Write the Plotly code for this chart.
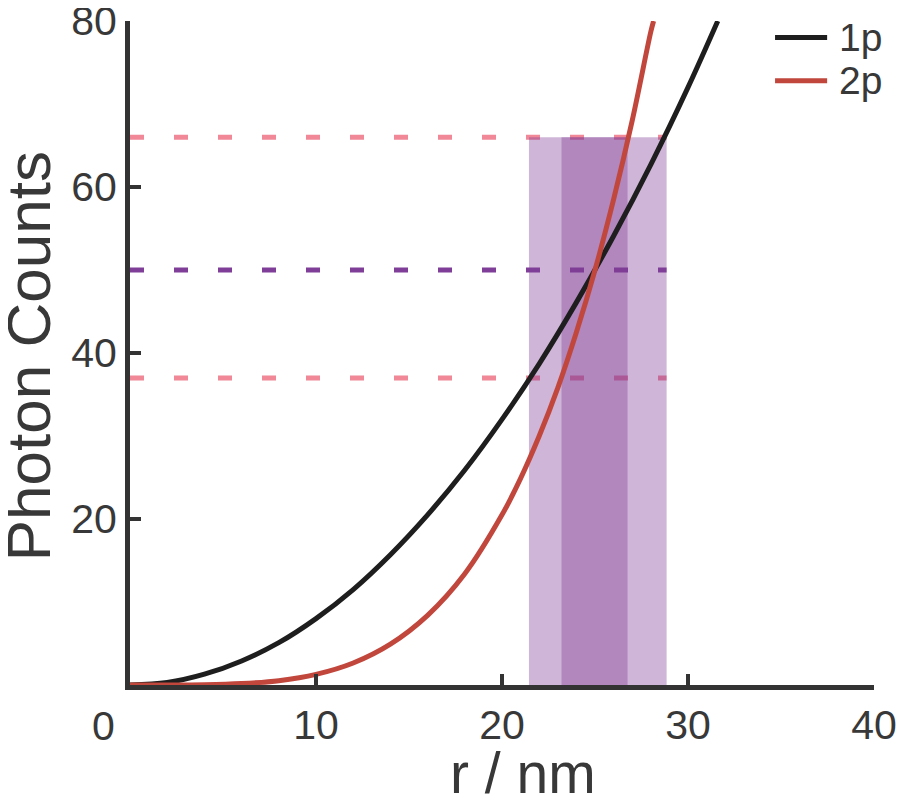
import plotly.graph_objects as go

# Data
r_1p = [0, 2, 4, 6, 8, 10, 12, 14, 16, 18, 20, 22, 24, 26, 28, 30, 31.6]
counts_1p = [0, 0.3, 1.3, 2.9, 5.1, 8.0, 11.5, 15.7, 20.5, 25.9, 32.0, 38.7, 46.1, 54.1, 62.7, 72.0, 80]

r_2p = [0, 4, 6, 8, 10, 12, 14, 16, 18, 20, 21, 22, 23, 24, 25, 26, 27, 28, 28.15]
counts_2p = [0, 0.03, 0.17, 0.52, 1.28, 2.65, 4.92, 8.39, 13.4, 20.5, 24.9, 30.0, 35.8, 42.5, 50.0, 58.5, 68.0, 78.7, 80]

level_low, level_mid, level_high = 37, 50, 66
band_outer = [21.45, 28.85]
band_inner = [23.2, 26.75]

x_ticks = [10, 20, 30, 40]
y_ticks = [20, 40, 60, 80]
series_names = ["1p", "2p"]
series_colors = ["#1e1e1e", "#c1473d"]

FONT = "Liberation Sans, Arial, Helvetica, sans-serif"
GREY = "#383838"

fig = go.Figure()
fig.add_trace(go.Scatter(x=r_1p, y=counts_1p, mode="lines", name=series_names[0],
                         line=dict(color=series_colors[0], width=5, shape="spline")))
fig.add_trace(go.Scatter(x=r_2p, y=counts_2p, mode="lines", name=series_names[1],
                         line=dict(color=series_colors[1], width=5, shape="spline")))

# dashed reference levels (below the shading)
for lvl, col in [(level_high, "#f08898"), (level_mid, "#7f3f98"), (level_low, "#f08898")]:
    fig.add_shape(type="line", xref="x", yref="y", x0=0, x1=band_outer[1], y0=lvl, y1=lvl,
                  line=dict(color=col, width=5, dash="14px,30px"), layer="below")

# shaded bands
for b in (band_outer, band_inner):
    fig.add_shape(type="rect", xref="x", yref="y", x0=b[0], x1=b[1], y0=0, y1=level_high,
                  fillcolor="rgba(130,60,150,0.38)", line=dict(width=0), layer="below")

# manual legend (top right)
for i, (nm, col) in enumerate(zip(series_names, series_colors)):
    yy = 0.975 - i * 0.065
    fig.add_shape(type="line", xref="paper", yref="paper", x0=0.867, x1=0.937, y0=yy, y1=yy,
                  line=dict(color=col, width=5))
    fig.add_annotation(x=0.950, y=yy, xref="paper", yref="paper", text=nm, showarrow=False,
                       xanchor="left", yanchor="middle",
                       font=dict(size=39, color=GREY, family=FONT))

# "0" label at origin, offset left
fig.add_annotation(x=0, y=0, xref="x", yref="y", text="0", showarrow=False,
                   xanchor="center", yanchor="top", xshift=-27, yshift=-16,
                   font=dict(size=41, color=GREY, family=FONT))

# axis titles
fig.add_annotation(x=0.528, y=-0.0816, xref="paper", yref="paper", text="r / nm", showarrow=False,
                   xanchor="center", yanchor="top",
                   font=dict(size=57, color=GREY, family=FONT))
fig.add_annotation(x=-0.1354, y=0.4955, xref="paper", yref="paper", text="Photon Counts",
                   showarrow=False, textangle=-90, xanchor="center", yanchor="middle",
                   font=dict(size=62, color=GREY, family=FONT))

axis_common = dict(showgrid=False, zeroline=False, automargin=False,
                   showline=True, linecolor="#333333", linewidth=5,
                   ticks="inside", ticklen=11, tickwidth=4, tickcolor="#333333",
                   tickfont=dict(size=41, color=GREY, family=FONT),
                   ticklabeloverflow="allow")
fig.update_xaxes(range=[0, 40], tickvals=x_ticks, **axis_common)
fig.update_yaxes(range=[0, 80], tickvals=y_ticks, **axis_common)

# page body adds an 8px offset, so the figure is 900x800 with margins compensated
fig.update_layout(
    width=900, height=800,
    margin=dict(l=122, r=34, t=13, b=123),
    plot_bgcolor="white", paper_bgcolor="white",
    showlegend=False,
)

fig.write_html("out.html")
